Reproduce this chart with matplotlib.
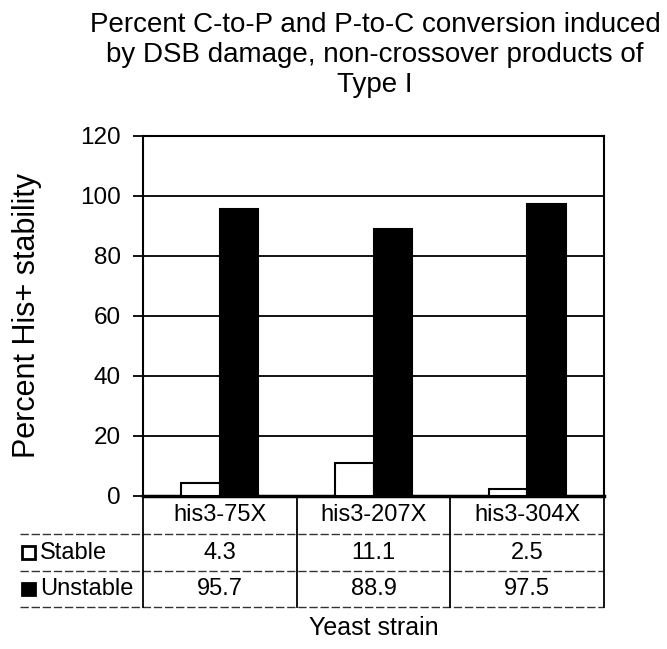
import numpy as np
import matplotlib.pyplot as plt
from matplotlib.patches import Rectangle

# data
strains = ['his3-75X', 'his3-207X', 'his3-304X']
stable = [4.3, 11.1, 2.5]
unstable = [95.7, 88.9, 97.5]
series_names = ['Stable', 'Unstable']
yticks = [0, 20, 40, 60, 80, 100, 120]

plt.rcParams['font.family'] = ['Liberation Sans', 'DejaVu Sans']

fig = plt.figure(figsize=(6.67, 6.49), dpi=100)
ax = fig.add_axes([143/667, 1-496/649, 461/667, 360/649])

x = np.arange(len(strains))
w = 0.25
ax.bar(x - w/2, stable, w, color='white', edgecolor='black', linewidth=1.5, zorder=3)
ax.bar(x + w/2, unstable, w, color='black', edgecolor='black', linewidth=1.5, zorder=3)

ax.set_xlim(-0.5, 2.5)
ax.set_ylim(0, 120)
ax.set_yticks(yticks)
ax.set_xticks([])
ax.tick_params(axis='y', direction='out', length=7, width=1.3, labelsize=17.5, pad=9)
ax.yaxis.grid(True, color='black', linewidth=1.3)
ax.set_axisbelow(True)
for s in ax.spines.values():
    s.set_linewidth(1.5)
ax.spines['bottom'].set_linewidth(2.5)
ax.set_ylabel('Percent His+ stability', fontsize=22)
ax.yaxis.set_label_coords(-0.219, 0.5)

# data table under the plot
rows = [0, -0.1056, -0.2083, -0.3083]
left = -0.267
for yy in rows[1:]:
    ax.plot([left, 1.0], [yy, yy], transform=ax.transAxes, clip_on=False,
            color='#333333', linewidth=1.0, linestyle=(0, (6, 2)))
for xx in [0, 1/3, 2/3, 1]:
    ax.plot([xx, xx], [0, rows[-1]], transform=ax.transAxes, clip_on=False,
            color='black', linewidth=1.3)

for i, name in enumerate(strains):
    cx = (i + 0.5) / 3
    ax.text(cx, (rows[0] + rows[1]) / 2, name, transform=ax.transAxes,
            ha='center', va='center', fontsize=17)
    ax.text(cx, (rows[1] + rows[2]) / 2, f'{stable[i]}', transform=ax.transAxes,
            ha='center', va='center', fontsize=17)
    ax.text(cx, (rows[2] + rows[3]) / 2, f'{unstable[i]}', transform=ax.transAxes,
            ha='center', va='center', fontsize=17)

for j, (name, fc) in enumerate(zip(series_names, ['white', 'black'])):
    yc = (rows[j + 1] + rows[j + 2]) / 2
    sq = Rectangle((-0.262, yc - 0.017), 0.027, 0.034, transform=ax.transAxes,
                   facecolor=fc, edgecolor='black', linewidth=2, clip_on=False)
    ax.add_patch(sq)
    ax.text(-0.223, yc, name, transform=ax.transAxes, ha='left', va='center', fontsize=17)

ax.text(0.5, -0.367, 'Yeast strain', transform=ax.transAxes, ha='center', va='center', fontsize=18)

fig.text(375/667, 1-12/649,
         'Percent C-to-P and P-to-C conversion induced\nby DSB damage, non-crossover products of\nType I',
         ha='center', va='top', fontsize=20, linespacing=1.2)

fig.savefig('out.png', dpi=100)
